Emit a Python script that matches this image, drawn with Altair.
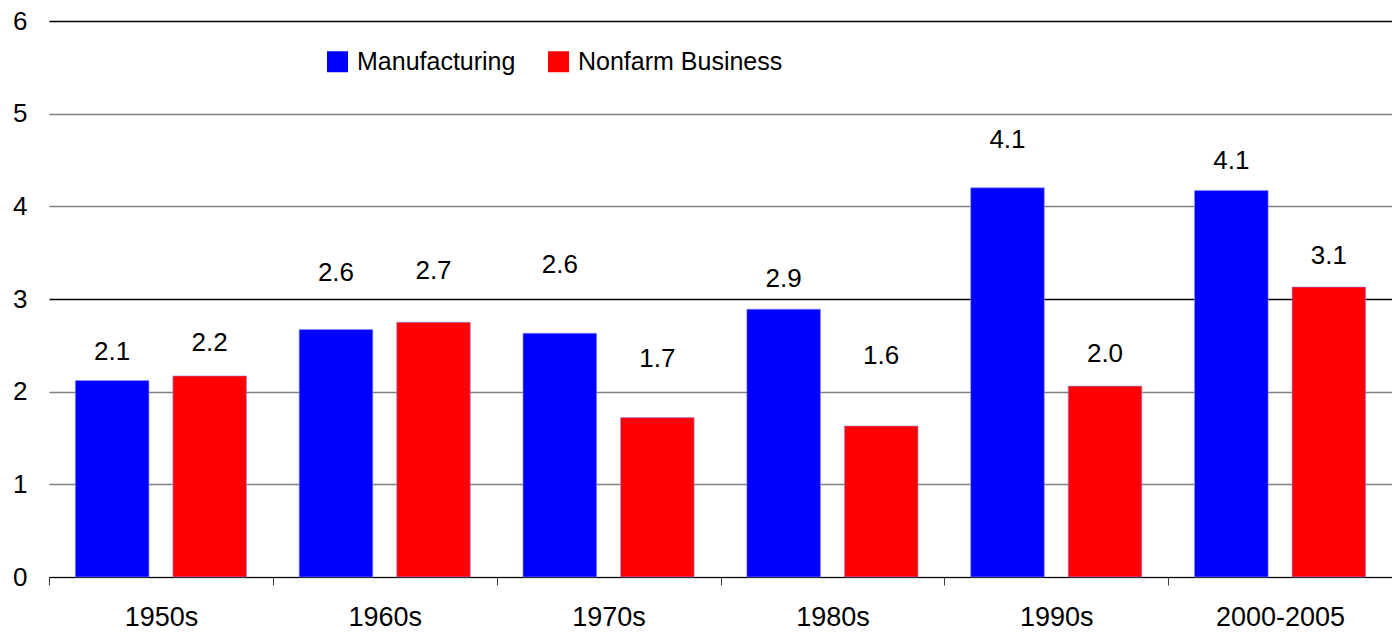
import altair as alt
import pandas as pd

periods = ["1950s", "1960s", "1970s", "1980s", "1990s", "2000-2005"]
series = ["Manufacturing", "Nonfarm Business"]
manufacturing = [2.12, 2.67, 2.63, 2.89, 4.20, 4.17]
nonfarm = [2.17, 2.75, 1.72, 1.63, 2.06, 3.13]
mfg_labels = ["2.1", "2.6", "2.6", "2.9", "4.1", "4.1"]
nf_labels = ["2.2", "2.7", "1.7", "1.6", "2.0", "3.1"]
mfg_label_at = [2.43, 3.28, 3.37, 3.22, 4.72, 4.49]
nf_label_at = [2.52, 3.30, 2.35, 2.38, 2.41, 3.46]

rows = []
for i, p in enumerate(periods):
    rows.append({"period": p, "series": series[0], "value": manufacturing[i],
                 "label": mfg_labels[i], "label_at": mfg_label_at[i]})
    rows.append({"period": p, "series": series[1], "value": nonfarm[i],
                 "label": nf_labels[i], "label_at": nf_label_at[i]})
df = pd.DataFrame(rows)

FONT = "Liberation Sans"

x = alt.X("period:N", sort=periods, title=None,
          scale=alt.Scale(paddingInner=0, paddingOuter=0),
          axis=alt.Axis(labelAngle=0, labelFontSize=27, labelColor="black",
                        labelFont=FONT, tickBand="extent", tickSize=8,
                        tickColor="#404040", domainColor="black",
                        labelPadding=19, grid=False))
xoff = alt.XOffset("series:N", sort=series,
                   scale=alt.Scale(paddingInner=0.245, paddingOuter=0.27))

bars = alt.Chart(df).mark_bar(stroke="#9090ff", strokeWidth=0.6).encode(
    x=x,
    xOffset=xoff,
    y=alt.Y("value:Q", title=None,
            scale=alt.Scale(domain=[0, 6], nice=False),
            axis=alt.Axis(values=[0, 1, 2, 3, 4, 5, 6], format="d",
                          labelFontSize=26, labelColor="black", labelFont=FONT,
                          ticks=False, domain=False, labelPadding=22, grid=True,
                          gridColor={"condition": {"test": "datum.value == 3 || datum.value == 6",
                                                   "value": "black"},
                                     "value": "#808080"},
                          gridWidth=1.3)),
    color=alt.Color("series:N", sort=series,
                    scale=alt.Scale(domain=series, range=["#0000ff", "#ff0000"]),
                    legend=alt.Legend(title=None, orient="none", direction="horizontal",
                                      legendX=276, legendY=28, symbolType="square",
                                      symbolSize=441, symbolStrokeWidth=0,
                                      labelFontSize=25, labelFont=FONT,
                                      labelColor="black", labelOffset=7,
                                      columnPadding=30, labelLimit=400)),
)

labels = alt.Chart(df).mark_text(fontSize=26, font=FONT, color="black",
                                 baseline="middle", align="center").encode(
    x=alt.X("period:N", sort=periods),
    xOffset=alt.XOffset("series:N", sort=series),
    y=alt.Y("label_at:Q"),
    text="label:N",
)

chart = alt.layer(bars, labels).properties(
    width=1343, height=556,
    autosize=alt.AutoSizeParams(type="none"),
    padding={"left": 41, "top": 13, "right": 0, "bottom": 51},
).configure_view(stroke=None).configure_axis(gridOpacity=1)

chart.save("out.html", embed_options={"renderer": "svg", "actions": False})
